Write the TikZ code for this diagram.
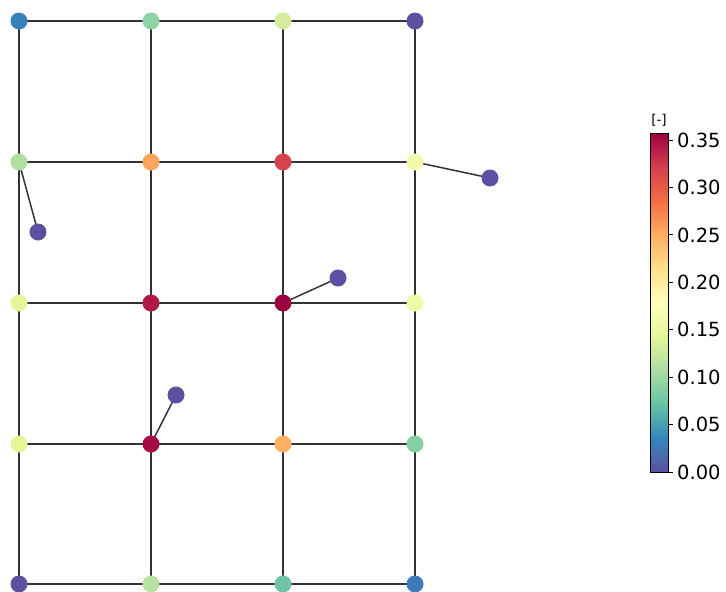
\documentclass[tikz,border=0pt]{standalone}
\usepackage{fontspec}
\setmainfont{DejaVu Sans}
\usetikzlibrary{backgrounds}
\definecolor{s0}{HTML}{5E4FA2}
\definecolor{s1}{HTML}{3288BD}
\definecolor{s2}{HTML}{66C2A5}
\definecolor{s3}{HTML}{ABDDA4}
\definecolor{s4}{HTML}{E6F598}
\definecolor{s5}{HTML}{FFFFBF}
\definecolor{s6}{HTML}{FEE08B}
\definecolor{s7}{HTML}{FDAE61}
\definecolor{s8}{HTML}{F46D43}
\definecolor{s9}{HTML}{D53E4F}
\definecolor{s10}{HTML}{9E0142}
\definecolor{edgec}{HTML}{333333}
\definecolor{c00}{HTML}{3682BA}
\definecolor{c01}{HTML}{8FD3A4}
\definecolor{c02}{HTML}{D6EE9B}
\definecolor{c03}{HTML}{5E4FA2}
\definecolor{c10}{HTML}{B1DFA3}
\definecolor{c11}{HTML}{FCA55D}
\definecolor{c12}{HTML}{D7434D}
\definecolor{c13}{HTML}{F4FAAD}
\definecolor{c20}{HTML}{E6F598}
\definecolor{c21}{HTML}{B11A46}
\definecolor{c22}{HTML}{9E0142}
\definecolor{c23}{HTML}{F0F9A8}
\definecolor{c30}{HTML}{E6F598}
\definecolor{c31}{HTML}{A70B44}
\definecolor{c32}{HTML}{FDB063}
\definecolor{c33}{HTML}{86CFA5}
\definecolor{c40}{HTML}{5E4FA2}
\definecolor{c41}{HTML}{B8E2A0}
\definecolor{c42}{HTML}{70C4A8}
\definecolor{c43}{HTML}{3D7AB8}
\pgfdeclareverticalshading{spectralr}{100bp}{color(0bp)=(s0); color(25bp)=(s0); color(30bp)=(s1); color(35bp)=(s2); color(40bp)=(s3); color(45bp)=(s4); color(50bp)=(s5); color(55bp)=(s6); color(60bp)=(s7); color(65bp)=(s8); color(70bp)=(s9); color(75bp)=(s10); color(100bp)=(s10)}
\tikzset{
  vtx/.style={circle, inner sep=0pt, minimum size=17pt, fill=#1, draw=none},
  edge/.style={draw=edgec, line width=1.5pt},
  ticklab/.style={anchor=west, inner sep=0pt, font=\fontsize{19.5pt}{20pt}\selectfont},
}
\begin{document}
\begin{tikzpicture}[x=1pt, y=-1pt]
\useasboundingbox (0,0) rectangle (726,592);
% node discs
\foreach \c/\x in {0/19,1/151,2/283,3/415}{
  \foreach \r/\y in {0/21,1/162,2/303,3/444,4/584}{
    \node[vtx=c\r\c] (n\r\c) at (\x,\y) {};
  }
}
\node[vtx=s0] (m1) at (38,232) {};
\node[vtx=s0] (m2) at (490,178) {};
\node[vtx=s0] (m3) at (338,278) {};
\node[vtx=s0] (m4) at (176,395) {};
\begin{scope}[on background layer]
\foreach \r in {0,...,4}{
  \draw[edge] (n\r0.center) -- (n\r1.center) -- (n\r2.center) -- (n\r3.center);
}
\foreach \c in {0,...,3}{
  \draw[edge] (n0\c.center) -- (n1\c.center) -- (n2\c.center) -- (n3\c.center) -- (n4\c.center);
}
\draw[edge] (n10.center) -- (m1.center);
\draw[edge] (n13.center) -- (m2.center);
\draw[edge] (n22.center) -- (m3.center);
\draw[edge] (n31.center) -- (m4.center);
\end{scope}
% colorbar
\shade[shading=spectralr] (650,133) rectangle (668,472);
\draw[black, line width=1pt] (650,133) rectangle (668,472);
\foreach \v/\y in {0.00/472,0.05/424.6,0.10/377.1,0.15/329.7,0.20/282.3,0.25/234.9,0.30/187.4,0.35/140}{
  \draw[black, line width=1pt] (668,\y) -- (672.5,\y);
  \node[ticklab] (t\v) at (677,\y) {\v};
}
\node[font=\fontsize{13.5pt}{14pt}\selectfont, inner sep=0pt] (unit) at (659,120.5) {[-]};
\end{tikzpicture}
\end{document}
